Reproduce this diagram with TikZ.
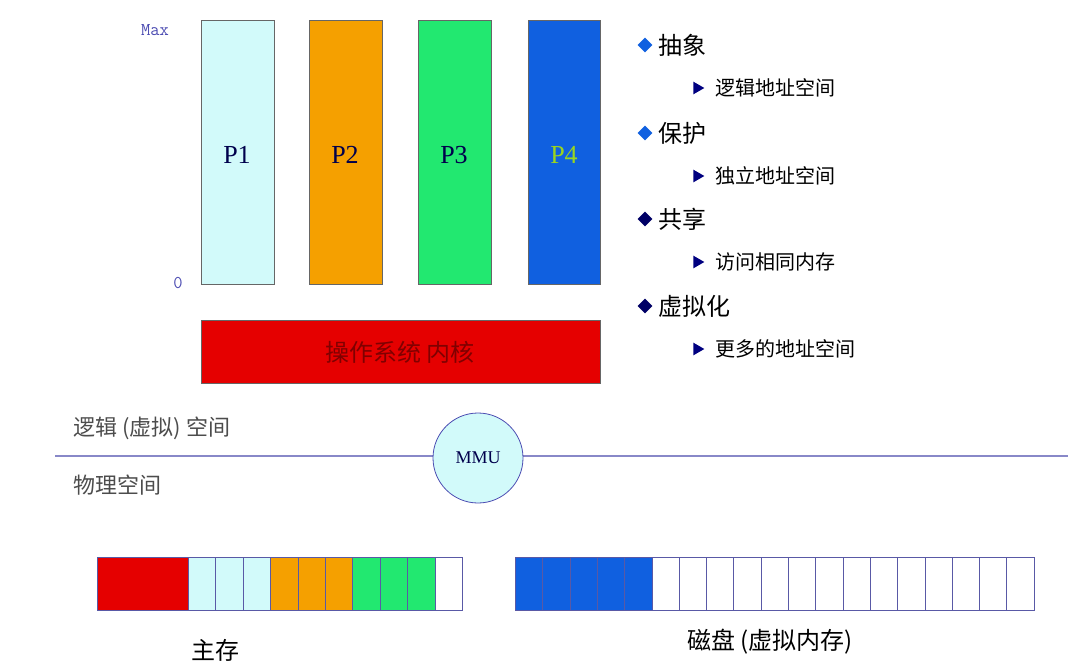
\documentclass[tikz,border=0pt]{standalone}
\usepackage{fontspec}
\usetikzlibrary{shapes.geometric}
\setmainfont{Liberation Serif}
\newfontfamily\cjk{Noto Sans CJK SC}
\begin{document}
\begin{tikzpicture}[x=1pt,y=-1pt,
  pbox/.style={draw=black!60,line width=0.8pt},
  cell/.style={draw=blue!30!gray,line width=0.8pt,minimum width=27.3pt,minimum height=53pt,inner sep=0,anchor=north west},
  plab/.style={font=\fontsize{26}{26}\selectfont,text=blue!30!black},
  head/.style={font=\cjk\fontsize{24}{24}\selectfont,anchor=west},
  sub/.style={font=\cjk\fontsize{20}{20}\selectfont,anchor=west},
  arr/.style={isosceles triangle,fill=blue!50!black,minimum height=11pt,minimum width=11pt,inner sep=0,isosceles triangle apex angle=60}]
\useasboundingbox (0,0) rectangle (1068,669);
\definecolor{pc}{HTML}{D2FAFA}\definecolor{po}{HTML}{F5A000}
\definecolor{pg}{HTML}{22E870}\definecolor{pb}{HTML}{1060E0}
\definecolor{ln}{HTML}{8888C8}
\draw[pbox,fill=pc] (201,20) rectangle (274,284);
\draw[pbox,fill=po] (309,20) rectangle (382,284);
\draw[pbox,fill=pg] (418,20) rectangle (491,284);
\draw[pbox,fill=pb] (528,20) rectangle (600,284);
\node[plab] (p1) at (237,155) {P1};
\node[plab] (p2) at (345,155) {P2};
\node[plab] (p3) at (454,155) {P3};
\node[plab,text=yellow!60!green] (p4) at (564,155) {P4};
\node[font=\ttfamily\fontsize{18}{18}\selectfont,text=blue!40!gray] (max) at (155,30) {Max};
\node[font=\ttfamily\fontsize{18}{18}\selectfont,text=blue!40!gray] (zero) at (178,283) {0};
\draw[pbox,fill=red!90!black] (201,320) rectangle (600,383);
\node[font=\cjk\fontsize{24}{24}\selectfont,text=red!50!black] (k) at (400,352) {操作系统 内核};
\draw[ln,line width=1.2pt] (55,456) -- (1068,456);
\node[circle,draw=blue!40!gray,fill=pc,line width=0.8pt,minimum size=90pt,inner sep=0,font=\fontsize{18}{18}\selectfont,text=blue!30!black] (mmu) at (478,458) {MMU};
\node[font=\cjk\itshape\fontsize{22}{22}\selectfont,anchor=west,text=black!70] (lv) at (70,428) {逻辑 (虚拟) 空间};
\node[font=\cjk\itshape\fontsize{22}{22}\selectfont,anchor=west,text=black!70] (ph) at (70,485) {物理空间};
\foreach \t/\s/\y/\c in {抽象/逻辑地址空间/45/pb,保护/独立地址空间/133/pb,共享/访问相同内存/219/blue!40!black,虚拟化/更多的地址空间/306/blue!40!black}{
  \node[diamond,fill=\c,minimum size=15pt,inner sep=0] at (645,\y) {};
  \node[head] at (655,\y) {\t};
  \node[arr] at (697,\y+43) {};
  \node[sub] at (712,\y+43) {\s};
}
\node[cell,fill=red!90!black,minimum width=91pt] (r) at (97,557) {};
\foreach \i/\c in {0/pc,1/pc,2/pc,3/po,4/po,5/po,6/pg,7/pg,8/pg,9/white}
  \node[cell,fill=\c] at (188+27.4*\i,557) {};
\foreach \i in {0,...,4}
  \node[cell,fill=pb] at (515+27.3*\i,557) {};
\foreach \i in {5,...,18}
  \node[cell,fill=white] at (515+27.3*\i,557) {};
\node[font=\cjk\fontsize{24}{24}\selectfont] (mm) at (215,650) {主存};
\node[font=\cjk\fontsize{24}{24}\selectfont] (disk) at (770,642) {磁盘 (虚拟内存)};
\end{tikzpicture}
\end{document}
